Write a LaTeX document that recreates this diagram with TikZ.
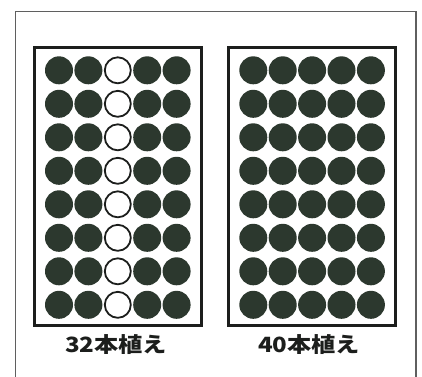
\documentclass[tikz,border=0pt]{standalone}
\usepackage{fontspec}
\newfontfamily\jp{Noto Sans CJK JP}
\definecolor{dotfill}{RGB}{44,56,46}
\definecolor{framegray}{RGB}{95,95,95}
\definecolor{inkdark}{RGB}{28,30,28}
\newcommand{\widecap}[1]{\scalebox{1.15}[1]{#1}}
\begin{document}
\begin{tikzpicture}[x=1pt,y=-1pt,
  fulldot/.style={circle,fill=dotfill,draw=none,minimum width=28pt,minimum height=27.4pt,inner sep=0pt},
  opendot/.style={circle,fill=white,draw=inkdark,line width=1.8pt,minimum width=26pt,minimum height=25.4pt,inner sep=0pt},
  plotbox/.style={rectangle,draw=inkdark,line width=3pt,inner sep=0pt},
  caption/.style={font=\jp\bfseries\fontsize{21}{21}\selectfont,text=inkdark,inner sep=0pt}]
\useasboundingbox (0,0) rectangle (422,376);
\fill[white] (0,0) rectangle (422,376);
% outer frame (bottom edge lies outside the picture)
\draw[framegray,line width=1.2pt] (15.5,380) -- (15.5,11.5) -- (416,11.5) -- (416,380);
% plot frames
\node[plotbox,minimum width=167.5pt,minimum height=277.5pt] (leftplot) at (117.75,186.25) {};
\node[plotbox,minimum width=166.7pt,minimum height=278pt] (rightplot) at (311.65,186.5) {};
% trees
\foreach \r in {0,...,7}{
  \foreach \c in {0,...,4}{
    \ifnum\c=2
      \node[opendot] (L-\r-\c) at (59+29.4*\c,70.3+33.5*\r) {};
    \else
      \node[fulldot] (L-\r-\c) at (59+29.4*\c,70.3+33.5*\r) {};
    \fi
    \node[fulldot] (R-\r-\c) at (253.3+29.4*\c,70.3+33.5*\r) {};
  }
}
% captions
\node[caption] (leftcap) at (116,345) {\widecap{32本植え}};
\node[caption] (rightcap) at (309,345) {\widecap{40本植え}};
\end{tikzpicture}
\end{document}
